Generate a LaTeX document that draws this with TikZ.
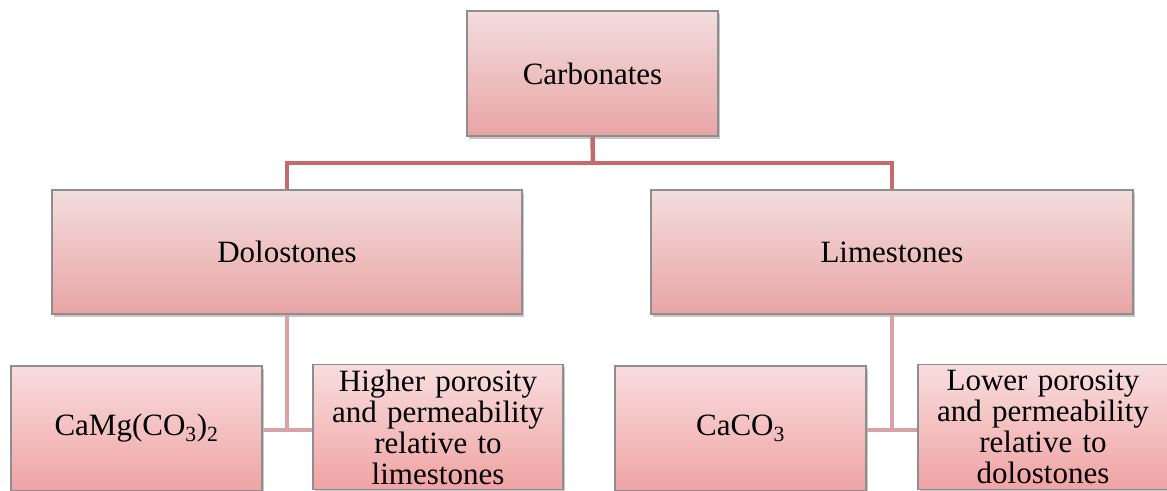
\documentclass[tikz,border=0pt]{standalone}
\usepackage{fontspec}
\setmainfont{Liberation Serif}
\usetikzlibrary{shadows}
\definecolor{boxtop}{HTML}{F3DDDD}
\definecolor{boxbot}{HTML}{E9A4A5}
\definecolor{boxtopb}{HTML}{F8DDDE}
\definecolor{boxbotb}{HTML}{F0A3A4}
\definecolor{boxline}{HTML}{8E8E8E}
\definecolor{connA}{HTML}{C8696E}
\definecolor{connB}{HTML}{DBA2A6}
\tikzset{
  card/.style={draw=boxline, line width=1.1pt, top color=boxtop, bottom color=boxbot,
    inner sep=0pt, align=center, font=\fontsize{31}{31}\selectfont,
    drop shadow={shadow xshift=1.5pt, shadow yshift=-2.5pt, opacity=0.22, fill=black}},
  cardb/.style={card, top color=boxtopb, bottom color=boxbotb},
  connup/.style={draw=connA, line width=4.5pt},
  conndown/.style={draw=connB, line width=4.5pt},
}
\begin{document}
\begin{tikzpicture}[x=1pt,y=1pt]
\useasboundingbox (0,0) rectangle (1167,-490);
\clip (0,0) rectangle (1167,-490);
\coordinate (j) at (593,-163);
\coordinate (dj) at (287,-430);
\coordinate (lj) at (892,-430);
\node[card, minimum width=251pt, minimum height=125pt] (carb) at (592.5,-73.5) {Carbonates};
\node[card, minimum width=470pt, minimum height=124pt] (dolo) at (287,-252) {Dolostones};
\node[card, minimum width=482pt, minimum height=124pt] (lime) at (892,-252) {Limestones};
\draw[connup] (carb.south) -- (j);
\draw[connup] (j) -| (dolo.north);
\draw[connup] (j) -| (lime.north);
\draw[conndown] (dolo.south) -- (dj);
\draw[conndown] (lime.south) -- (lj);
\node[cardb, minimum width=251pt, minimum height=125pt] (camg) at (136.5,-428.5) {CaMg(CO\textsubscript{3})\textsubscript{2}};
\node[cardb, minimum width=250pt, minimum height=125pt, text width=250pt] (higher) at (438,-427) {Higher porosity\\and permeability\\relative to\\limestones};
\node[cardb, minimum width=251pt, minimum height=125pt] (caco) at (740.5,-428.5) {CaCO\textsubscript{3}};
\node[cardb, minimum width=250pt, minimum height=125pt, text width=250pt] (lower) at (1043,-427) {Lower porosity\\and permeability\\relative to\\dolostones};
\draw[conndown] (camg.east |- dj) -- (higher.west |- dj);
\draw[conndown] (caco.east |- lj) -- (lower.west |- lj);
\end{tikzpicture}
\end{document}
